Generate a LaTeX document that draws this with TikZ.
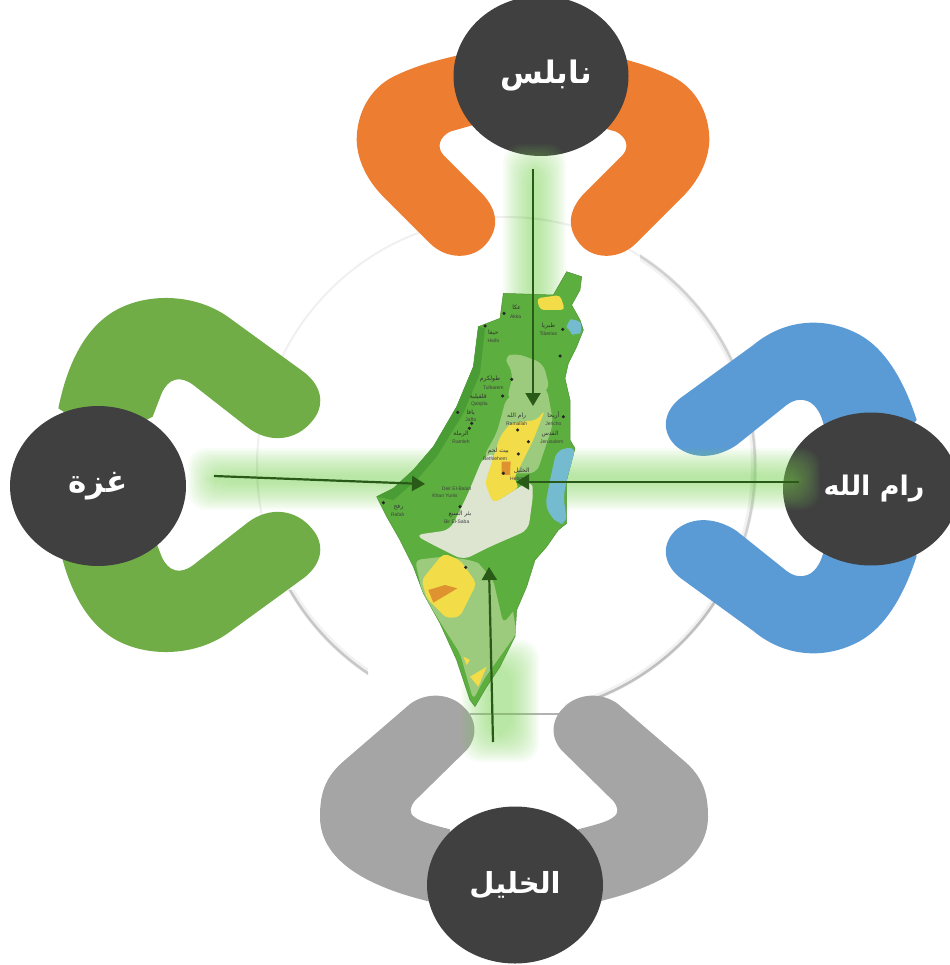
\documentclass[tikz,border=0pt]{standalone}
\usepackage{fontspec}
\TeXXeTstate=1
\newfontfamily\arabicfont[Script=Arabic]{DejaVu Sans}
\newfontfamily\arabicbold[Script=Arabic]{DejaVu Sans Bold}
\setmainfont{Liberation Sans}
\usetikzlibrary{shapes.geometric,arrows.meta}
\definecolor{cOrange}{HTML}{ED7D31}
\definecolor{cBlue}{HTML}{5B9BD5}
\definecolor{cGreen}{HTML}{70AD47}
\definecolor{cGray}{HTML}{A5A5A5}
\definecolor{cDark}{HTML}{404040}
\definecolor{cGlow}{HTML}{7FD35A}
\definecolor{cArrow}{HTML}{2A5A18}
\definecolor{mBase}{HTML}{5CAE3E}
\definecolor{mDark}{HTML}{4A9C35}
\definecolor{mLight}{HTML}{9CCB7E}
\definecolor{mPale}{HTML}{DDE4D0}
\definecolor{mYellow}{HTML}{F2DC48}
\definecolor{mOrange}{HTML}{DE9230}
\definecolor{mLake}{HTML}{74BBCF}
\tikzset{
  x=1pt,y=-1pt,
  city/.style={ellipse,fill=cDark,draw=none,inner sep=0pt,text=white,
    font=\arabicbold\fontsize{27}{30}\selectfont},
  link/.style={draw=cArrow,line width=2.2pt,-{Triangle[length=13pt,width=15pt]}},
  maplab/.style={inner sep=0pt,text=black!75,font=\fontsize{5}{6}\selectfont},
  maparab/.style={inner sep=0pt,text=black!80,font=\arabicfont\fontsize{6}{7}\selectfont},
  mapdot/.style={fill=black!85,draw=none,minimum size=3.5pt,inner sep=0pt,circle},
}
\newcommand{\glowbar}[4]{%
  \foreach \gi in {0,...,17}{%
    \fill[cGlow,opacity=.045,rounded corners=18pt]
      ({#1+\gi*1.6},{#2+\gi*1.6}) rectangle ({#3-\gi*1.6},{#4-\gi*1.6});}}
\newcommand{\orangearm}{\fill[cOrange] (330,45) .. controls (260,60) and (190,80) .. (130,110) .. controls (60,145) and (20,220) .. (20,300) .. controls (22,370) and (60,430) .. (100,470) -- (240,610) .. controls (290,660) and (370,660) .. (410,610) .. controls (450,560) and (440,510) .. (400,465) -- (280,345) .. controls (258,320) and (270,290) .. (300,275) -- (370,255) -- (400,100) -- cycle;}
\newcommand{\bluearm}{\fill[cBlue] (770,300) .. controls (735,190) and (680,90) .. (600,45) .. controls (490,-15) and (370,0) .. (280,75) -- (60,235) .. controls (5,280) and (5,340) .. (50,380) .. controls (100,420) and (170,415) .. (230,375) -- (380,255) .. controls (420,225) and (470,235) .. (490,310) -- (520,400) -- (650,450) -- cycle;}
\newcommand{\greenarm}{\fill[cGreen] (55,355) .. controls (80,230) and (130,120) .. (220,65) .. controls (320,5) and (470,10) .. (570,85) -- (790,245) .. controls (850,290) and (855,350) .. (815,395) .. controls (770,450) and (690,465) .. (620,410) -- (460,285) .. controls (420,255) and (385,265) .. (365,310) -- (338,380) -- (200,450) -- cycle;}
\newcommand{\grayarm}{\fill[cGray] (270,72) -- (75,240) .. controls (15,290) and (0,340) .. (0,410) .. controls (0,520) and (100,610) .. (330,665) -- (400,600) -- (390,448) .. controls (340,435) and (300,425) .. (285,412) .. controls (265,400) and (270,380) .. (285,362) -- (440,210) .. controls (475,170) and (470,115) .. (430,80) .. controls (390,40) and (320,35) .. (270,72) -- cycle;}
\begin{document}
\begin{tikzpicture}
\useasboundingbox (0,0) rectangle (949,965);
% faint circle and its shadow
\begin{scope}
  \clip (255,200) rectangle (770,590);
  \draw[black!6,line width=2pt] (506,466) circle (249);
\end{scope}
\begin{scope}
  \clip (640,250) rectangle (800,590);
  \draw[black!5,line width=6pt] (506,466) circle (248);
  \draw[black!18,line width=2.5pt] (506,466) circle (249);
\end{scope}
\begin{scope}
  \clip (250,590) rectangle (368,720);
  \draw[black!5,line width=6pt] (506,466) circle (248);
  \draw[black!22,line width=2.5pt] (506,466) circle (249);
\end{scope}
\begin{scope}
  \clip (565,590) rectangle (800,720);
  \draw[black!5,line width=6pt] (506,466) circle (248);
  \draw[black!25,line width=2.5pt] (506,466) circle (249);
\end{scope}
\draw[black!30,line width=1.5pt] (470,714) -- (565,714);
% arms
\begin{scope}[shift={(350,40)},x=1pt/3,y=-1pt/3]\orangearm\end{scope}
\begin{scope}[shift={(716,40)},x=-1pt/3,y=-1pt/3]\orangearm\end{scope}
\begin{scope}[shift={(660,320)},x=1pt/3,y=-1pt/3]\bluearm\end{scope}
\begin{scope}[shift={(660,656)},x=1pt/3,y=1pt/3]\bluearm\end{scope}
\begin{scope}[shift={(40,290)},x=1pt/3,y=-1pt/3]\greenarm\end{scope}
\begin{scope}[shift={(40,660)},x=1pt/3,y=1pt/3]\greenarm\end{scope}
\begin{scope}[shift={(320,680)},x=1pt/3,y=-1pt/3]\grayarm\end{scope}
\begin{scope}[shift={(708,680)},x=-1pt/3,y=-1pt/3]\grayarm\end{scope}
% city nodes
\node[city,minimum width=175pt,minimum height=160pt] (nablus) at (541,76) {\hspace{10pt}\fontsize{31}{34}\selectfont\beginR نابلس\endR};
\node[city,minimum width=176pt,minimum height=153pt] (ramallah) at (871,489) {\hspace{6pt}\raisebox{7pt}{\beginR رام الله\endR}};
\node[city,minimum width=176pt,minimum height=160pt] (gaza) at (98,486) {\fontsize{31}{34}\selectfont\raisebox{6pt}{\beginR غزة\endR}};
\node[city,minimum width=176pt,minimum height=157pt] (hebron) at (515,885) {\fontsize{29}{32}\selectfont\raisebox{3pt}{\beginR الخليل\endR}};
% glows
\glowbar{503}{144}{566}{330}
\glowbar{188}{448}{820}{510}
\glowbar{461}{640}{539}{762}
% map
\begin{scope}[shift={(350,240)},x=1pt/3,y=-1pt/3]
  \path[fill=mBase,draw=mBase!85!black,line width=.5pt,line join=round]
    (650,95) -- (695,110) -- (690,150) -- (665,195) -- (690,240) -- (700,270) -- (680,320) -- (655,370) -- (645,415) -- (660,480) -- (660,600) -- (675,625) -- (650,720) -- (650,850) -- (625,870) -- (590,920) -- (555,960) -- (530,1040) -- (500,1110) -- (495,1190) -- (450,1280) -- (410,1340) -- (375,1400) -- (360,1380) -- (320,1260) -- (270,1150) -- (220,1060) -- (190,980) -- (150,900) -- (110,830) -- (80,770) -- (130,745) -- (190,690) -- (250,620) -- (320,500) -- (370,380) -- (385,260) -- (450,235) -- (460,160) -- (610,165) -- cycle;
  \fill[mDark] (80,770) -- (130,745) -- (190,690) -- (250,620) -- (320,500) -- (370,380) -- (385,260) -- (405,265) -- (390,400) -- (340,520) -- (260,650) -- (200,720) -- (130,780) -- cycle;
  \fill[mLight,rounded corners=6pt] (195,960) -- (280,950) -- (360,960) -- (470,1000) -- (500,1180) -- (400,1320) -- (370,1380) -- (330,1240) -- (260,1130) -- (215,1050) -- cycle;
  \fill[mBase,rounded corners=6pt] (360,940) -- (430,950) -- (540,880) -- (550,960) -- (500,1100) -- (460,1150) -- (430,1020) -- cycle;
  \fill[mLight,rounded corners=8pt] (470,470) -- (590,440) -- (610,550) -- (560,700) -- (430,700) -- (400,650) -- (440,580) -- cycle;
  \fill[mLight,rounded corners=8pt] (460,350) -- (500,340) -- (580,370) -- (600,450) -- (540,470) -- (470,480) -- (490,400) -- cycle;
  \fill[mPale,rounded corners=8pt] (400,650) -- (440,640) -- (430,790) -- (510,740) -- (545,720) -- (550,760) -- (535,870) -- (420,920) -- (340,960) -- (240,910) -- (195,885) -- (300,870) -- (350,770) -- cycle;
  \fill[mYellow,rounded corners=5pt] (450,590) -- (480,550) -- (560,540) -- (585,510) -- (550,600) -- (510,680) -- (490,720) -- (510,740) -- (430,790) -- (405,730) -- cycle;
  \fill[mOrange] (455,665) -- (482,665) -- (480,705) -- (455,705) -- cycle;
  \fill[mYellow,rounded corners=5pt] (215,1020) -- (280,940) -- (330,960) -- (380,1030) -- (330,1130) -- (290,1135) -- (230,1075) -- cycle;
  \fill[mOrange] (235,1050) -- (285,1035) -- (322,1045) -- (250,1088) -- cycle;
  \fill[mYellow] (340,1250) -- (360,1260) -- (350,1275) -- cycle;
  \fill[mYellow] (360,1310) -- (410,1280) -- (385,1340) -- cycle;
  \fill[mYellow,rounded corners=4pt] (560,175) -- (630,165) -- (645,210) -- (570,210) -- cycle;
  \fill[mLake,rounded corners=8pt] (645,245) -- (680,232) -- (702,265) -- (680,292) -- (655,275) -- cycle;
  \fill[mLake,rounded corners=8pt] (620,630) -- (678,620) -- (650,720) -- (640,770) -- (652,850) -- (620,852) -- (585,800) -- (600,720) -- cycle;
  % place labels of the map
  \foreach \px/\py in {462/220,405/258,638/268,630/348,485/418,458/468,323/517,365/550,358/565,503/570,535/605,505/642,460/700,100/788,330/800,347/982,640/530}
    \node[mapdot] at (\px,\py) {};
  \node[maparab] at (500,203) {\beginR عكا\endR};
  \node[maplab] at (497,229) {Akka};
  \node[maparab] at (430,277) {\beginR حيفا\endR};
  \node[maplab] at (430,302) {Haifa};
  \node[maparab] at (595,258) {\beginR طبريا\endR};
  \node[maplab] at (595,282) {Tiberias};
  \node[maparab] at (420,418) {\beginR طولكرم\endR};
  \node[maplab] at (430,442) {Tulkarem};
  \node[maparab] at (385,470) {\beginR قلقيلية\endR};
  \node[maplab] at (388,493) {Qalqilia};
  \node[maparab] at (362,517) {\beginR يافا\endR};
  \node[maplab] at (362,538) {Jaffa};
  \node[maparab] at (333,582) {\beginR الرملة\endR};
  \node[maplab] at (333,606) {Ramleh};
  \node[maparab] at (500,527) {\beginR رام الله\endR};
  \node[maplab] at (500,551) {Ramallah};
  \node[maparab] at (610,527) {\beginR أريحا\endR};
  \node[maplab] at (610,551) {Jericho};
  \node[maparab] at (600,582) {\beginR القدس\endR};
  \node[maplab] at (605,605) {Jerusalem};
  \node[maparab] at (445,632) {\beginR بيت لحم\endR};
  \node[maplab] at (435,655) {Bethlehem};
  \node[maparab] at (515,693) {\beginR الخليل\endR};
  \node[maplab] at (505,717) {Hebron};
  \node[maplab] at (320,745) {Deir El-Balah};
  \node[maplab] at (285,768) {Khan Yunis};
  \node[maparab] at (145,803) {\beginR رفح\endR};
  \node[maplab] at (143,825) {Rafah};
  \node[maparab] at (330,822) {\beginR بئر السبع\endR};
  \node[maplab] at (320,844) {Bir El-Saba};
\end{scope}
% connectors
\coordinate (nablusEnd) at (533,169);
\coordinate (nablusTip) at (533,406);
\coordinate (ramEnd) at (799,482);
\coordinate (ramTip) at (516,482);
\coordinate (gazaEnd) at (214,476);
\coordinate (gazaTip) at (425,484);
\coordinate (hebEnd) at (493,742);
\coordinate (hebTip) at (489,567);
\draw[link] (nablusEnd) -- (nablusTip);
\draw[link] (ramEnd) -- (ramTip);
\draw[link] (gazaEnd) -- (gazaTip);
\draw[link] (hebEnd) -- (hebTip);
\end{tikzpicture}
\end{document}
